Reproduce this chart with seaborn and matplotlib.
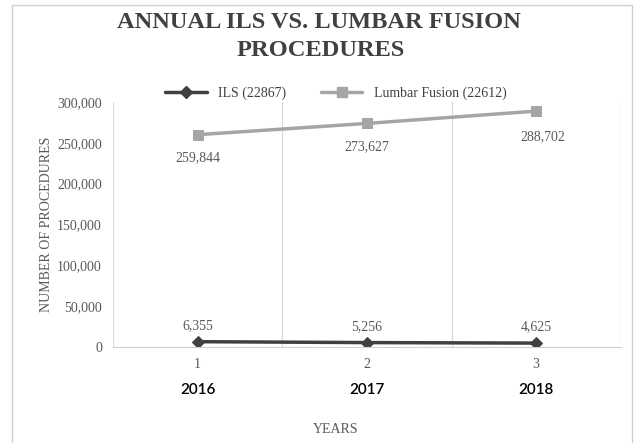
import pandas as pd
import numpy as np
import seaborn as sns
from matplotlib import pyplot as plt
from matplotlib.patches import Rectangle
from matplotlib.lines import Line2D

# data
years = [2016, 2017, 2018]
positions = [1, 2, 3]
ils = [6355, 5256, 4625]
lumbar = [259844, 273627, 288702]
ils_name = "ILS (22867)"
lumbar_name = "Lumbar Fusion (22612)"

sns.set_style("white")
plt.rcParams['font.family'] = ['Liberation Serif', 'DejaVu Serif']

df = pd.DataFrame({"pos": positions, "ILS": ils, "Lumbar": lumbar})

fig = plt.figure(figsize=(6.42, 4.43), dpi=100)
ax = fig.add_axes([0.176, 0.217, 0.791, 0.553])

dark = "#404040"
light = "#a5a5a5"
txt = "#595959"

sns.lineplot(data=df, x="pos", y="Lumbar", ax=ax, color=light, linewidth=2.5,
             marker="s", markersize=7, markeredgecolor=light)
sns.lineplot(data=df, x="pos", y="ILS", ax=ax, color=dark, linewidth=2.5,
             marker="D", markersize=6, markeredgecolor=dark)

ax.set_xlim(0.5, 3.5)
ax.set_ylim(0, 300000)
ax.set_yticks(np.arange(0, 300001, 50000))
ax.set_yticklabels([f"{v:,}" for v in range(0, 300001, 50000)], fontsize=10, color=txt)
ax.set_xticks(positions)
ax.set_xticklabels([str(p) for p in positions], fontsize=10, color=txt)
ax.tick_params(length=0, pad=8)
ax.set_xlabel("")
ax.set_ylabel("NUMBER OF PROCEDURES", fontsize=10, color=txt, labelpad=3)

for s in ["top", "right", "left"]:
    ax.spines[s].set_visible(False)
ax.spines["bottom"].set_color("#d0d0d0")
for gx in [0.5, 1.5, 2.5, 3.5]:
    ax.axvline(gx, color="#d9d9d9", linewidth=0.9, zorder=0)

# data labels
for i, (p, v) in enumerate(zip(positions, lumbar)):
    dx = 5 if i == 2 else 0
    dy = -14 if i == 2 else -12
    ax.annotate(f"{v:,}", (p, v), xytext=(dx, dy), textcoords="offset points",
                ha="center", va="top", fontsize=10, color=txt)
for p, v in zip(positions, ils):
    ax.annotate(f"{v:,}", (p, v), xytext=(0, 7), textcoords="offset points",
                ha="center", va="bottom", fontsize=10, color=txt)

# year labels under the category numbers
for p, y in zip(positions, years):
    ax.text(p, -0.178, str(y), transform=ax.get_xaxis_transform(), ha="center",
            va="center", fontsize=11, fontweight="semibold", family=["Lato", "DejaVu Sans"],
            color="black")

fig.text(0.523, 0.03, "YEARS", ha="center", va="center", fontsize=10, color=txt)

fig.text(0.497, 0.95, "ANNUAL ILS VS. LUMBAR FUSION", ha="center", va="center",
         fontsize=17.6, fontweight="bold", color=dark)
fig.text(0.499, 0.887, "PROCEDURES", ha="center", va="center",
         fontsize=17.6, fontweight="bold", color=dark)

handles = [Line2D([], [], color=dark, linewidth=2.5, marker="D", markersize=6),
           Line2D([], [], color=light, linewidth=2.5, marker="s", markersize=7)]
fig.legend(handles, [ils_name, lumbar_name], loc="center", bbox_to_anchor=(0.523, 0.79),
           ncol=2, frameon=False, fontsize=10, handlelength=3, columnspacing=2.5,
           labelcolor="#404040")

fig.patches.append(Rectangle((0.019, -0.1), 0.966, 1.088, transform=fig.transFigure,
                             fill=False, edgecolor="#d0d0d0", linewidth=1))

fig.savefig("out.png", dpi=100)
